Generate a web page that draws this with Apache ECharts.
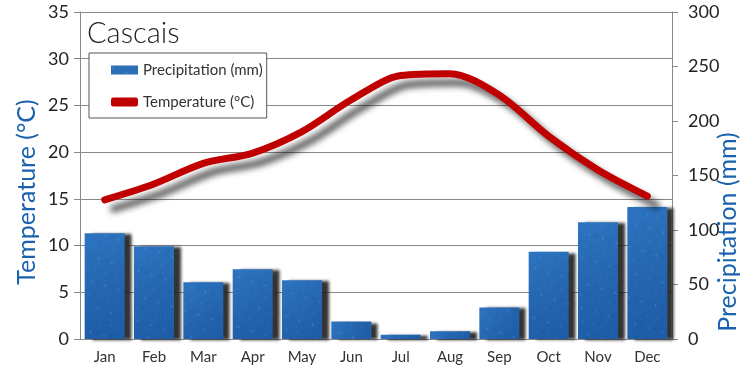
<!DOCTYPE html>
<html>
<head>
<meta charset="utf-8">
<script src="https://cdn.jsdelivr.net/npm/echarts@6/dist/echarts.min.js"></script>
<style>
html,body{margin:0;padding:0;background:#fff;}
#c{width:751px;height:376px;}
</style>
</head>
<body>
<div id="c"></div>
<script>
const months = ['Jan','Feb','Mar','Apr','May','Jun','Jul','Aug','Sep','Oct','Nov','Dec'];
const precipitation = [97, 85, 52, 64, 54, 16, 4, 7, 29, 80, 107, 121];
const temperature = [14.9, 16.6, 18.8, 19.9, 22.2, 25.6, 28.2, 28.4, 26.1, 21.7, 18.1, 15.3];
const tempTicks = {min: 0, max: 35, interval: 5};
const precTicks = {min: 0, max: 300, interval: 50};
const titleText = 'Cascais';
const precName = 'Precipitation (mm)';
const tempName = 'Temperature (°C)';

const FONT = 'Lato';
const chart = echarts.init(document.getElementById('c'), null, {renderer: 'canvas'});
chart.setOption({
  animation: false,
  backgroundColor: '#fff',
  grid: {left: 80, right: 79, top: 12, bottom: 37, containLabel: false},
  title: {
    text: titleText, left: 82, top: 14,
    textStyle: {fontFamily: FONT, fontSize: 29, fontWeight: 300, color: '#222'}
  },
  legend: {
    left: 89, top: 53, orient: 'vertical',
    padding: [8, 4, 7, 22],
    itemGap: 14, itemWidth: 27, itemHeight: 9,
    backgroundColor: '#fff', borderColor: '#555', borderWidth: 1,
    textStyle: {fontFamily: FONT, fontSize: 15, color: '#333', lineHeight: 18},
    data: [
      {name: precName, icon: 'rect', itemStyle: {color: '#2a6fb8'}},
      {name: tempName, icon: 'roundRect', itemStyle: {color: '#c00000'}}
    ]
  },
  graphic: [
    {type: 'text', x: 27, y: 192, rotation: Math.PI / 2,
     style: {text: tempName, fontFamily: FONT, fontSize: 25, fill: '#1a62ad',
             textAlign: 'center', textVerticalAlign: 'middle'}},
    {type: 'text', x: 728, y: 232, rotation: Math.PI / 2,
     style: {text: precName, fontFamily: FONT, fontSize: 25, fill: '#1a62ad',
             textAlign: 'center', textVerticalAlign: 'middle'}}
  ],
  xAxis: {
    type: 'category', data: months,
    axisLine: {lineStyle: {color: '#888'}},
    axisTick: {alignWithLabel: false, length: 6, lineStyle: {color: '#888'}},
    axisLabel: {fontFamily: FONT, fontSize: 15, color: '#333', margin: 11}
  },
  yAxis: [
    {
      type: 'value', min: tempTicks.min, max: tempTicks.max, interval: tempTicks.interval,
      axisLine: {show: true, lineStyle: {color: '#888'}},
      axisTick: {show: true, length: 6, lineStyle: {color: '#888'}},
      axisLabel: {fontFamily: FONT, fontSize: 18, color: '#222', margin: 11},
      splitLine: {show: true, lineStyle: {color: '#888', width: 1}}
    },
    {
      type: 'value', min: precTicks.min, max: precTicks.max, interval: precTicks.interval,
      position: 'right',
      axisLine: {show: true, lineStyle: {color: '#888'}},
      axisTick: {show: true, length: 6, lineStyle: {color: '#888'}},
      axisLabel: {fontFamily: FONT, fontSize: 18, color: '#222', margin: 16},
      splitLine: {show: false}
    }
  ],
  series: [
    {
      name: precName, type: 'bar', yAxisIndex: 1, data: precipitation,
      barWidth: 40,
      itemStyle: {
        color: new echarts.graphic.LinearGradient(0, 0, 1, 1, [
          {offset: 0, color: '#2d74c0'}, {offset: 0.5, color: '#2566b0'}, {offset: 1, color: '#1d5ca6'}
        ]),
        shadowColor: 'rgba(30,30,30,0.9)', shadowBlur: 3, shadowOffsetX: 7, shadowOffsetY: 1,
        decal: {
          symbol: 'circle', symbolSize: 0.4, color: 'rgba(150,205,255,0.4)',
          dashArrayX: [[3, 7], [5, 9]], dashArrayY: [4, 8], rotation: 0.3
        }
      },
      z: 2
    },
    {
      name: tempName, type: 'line', yAxisIndex: 0, data: temperature,
      smooth: 0.3, showSymbol: false, symbol: 'none',
      lineStyle: {
        color: '#c00000', width: 7, cap: 'round', join: 'round',
        shadowColor: 'rgba(0,0,0,0.65)', shadowBlur: 6, shadowOffsetX: 9, shadowOffsetY: 9
      },
      itemStyle: {color: '#c00000'},
      z: 5
    }
  ]
});
</script>
</body>
</html>
